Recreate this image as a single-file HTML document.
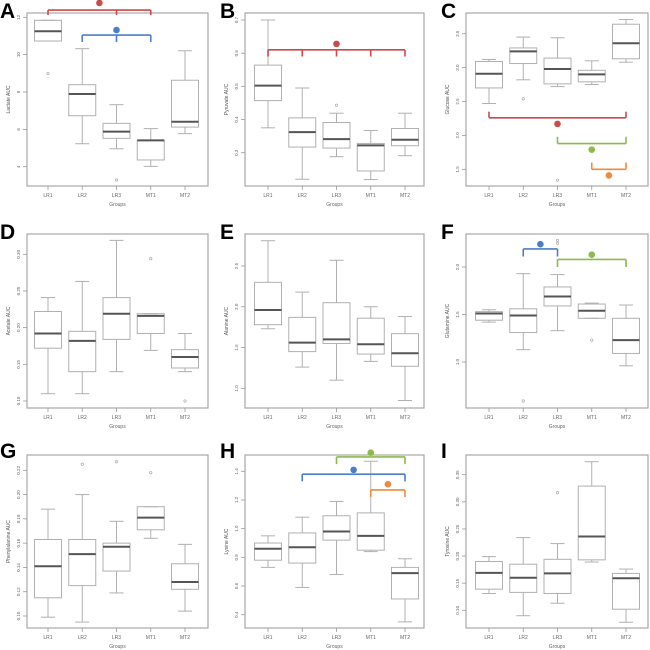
<!DOCTYPE html>
<html><head><meta charset="utf-8">
<style>
html,body{margin:0;padding:0;background:#fff;}
svg{display:block;font-family:"Liberation Sans",Arial,sans-serif;}
</style></head>
<body>
<svg id="fig" width="650" height="650" viewBox="0 0 650 650"></svg>
<script>
// ---- data (per group: [lowWhisker, Q1, median, Q3, highWhisker]) ----
const groups = ["LR1","LR2","LR3","MT1","MT2"];
const panelLetters = ["A","B","C","D","E","F","G","H","I"];
const yTitles = ["Lactate AUC","Pyruvate AUC","Glucose AUC","Acetate AUC","Alanine AUC","Glutamine AUC","Phenylalanine AUC","Lysine AUC","Tyrosine AUC"];
const statsA = [[10.73,10.73,11.25,11.84,11.84],[5.23,6.73,7.89,8.39,10.32],[4.96,5.52,5.88,6.32,7.32],[4.02,4.36,5.41,5.41,6.04],[5.77,6.12,6.41,8.63,10.21]];
const statsB = [[0.375,0.457,0.502,0.564,0.70],[0.220,0.317,0.362,0.405,0.495],[0.288,0.314,0.341,0.391,0.419],[0.219,0.245,0.322,0.328,0.367],[0.291,0.321,0.339,0.373,0.419]];
const statsC = [[2.47,2.70,2.91,3.09,3.12],[2.82,3.06,3.24,3.29,3.45],[2.72,2.76,2.98,3.14,3.44],[2.75,2.79,2.90,2.96,3.10],[3.08,3.13,3.36,3.64,3.71]];
const statsD = [[0.110,0.172,0.192,0.222,0.241],[0.110,0.140,0.182,0.195,0.263],[0.140,0.184,0.219,0.241,0.319],[0.169,0.192,0.216,0.219,0.219],[0.140,0.145,0.160,0.170,0.192]];
const statsE = [[1.73,1.78,1.96,2.30,2.81],[1.26,1.45,1.56,1.87,2.18],[1.10,1.55,1.60,2.05,2.57],[1.33,1.42,1.54,1.86,2.00],[0.85,1.27,1.43,1.67,1.88]];
const statsF = [[1.42,1.44,1.51,1.53,1.55],[1.13,1.31,1.49,1.56,1.93],[1.33,1.59,1.69,1.79,1.92],[1.46,1.46,1.54,1.61,1.62],[0.96,1.09,1.23,1.46,1.60]];
const statsG = [[0.099,0.115,0.141,0.163,0.188],[0.095,0.125,0.151,0.163,0.200],[0.119,0.137,0.157,0.160,0.178],[0.164,0.171,0.181,0.190,0.190],[0.104,0.122,0.128,0.143,0.159]];
const statsH = [[0.73,0.78,0.86,0.90,0.95],[0.59,0.76,0.87,0.97,1.08],[0.68,0.92,0.98,1.09,1.19],[0.84,0.85,0.95,1.11,1.47],[0.35,0.51,0.69,0.73,0.79]];
const statsI = [[0.131,0.139,0.169,0.190,0.199],[0.090,0.133,0.160,0.185,0.234],[0.113,0.131,0.168,0.194,0.223],[0.189,0.193,0.236,0.329,0.374],[0.078,0.102,0.159,0.168,0.176]];
// outliers: [groupIndex, value]
const outA = [[0,8.99],[2,3.29]];
const outB = [[2,0.443]];
const outC = [[1,2.54],[2,1.34]];
const outD = [[3,0.294],[4,0.100]];
const outE = [];
const outF = [[1,0.59],[2,2.28],[2,2.25],[3,1.23]];
const outG = [[1,0.225],[2,0.227],[3,0.218]];
const outH = [];
const outI = [[2,0.317]];
// tick labels
const ticksA = [4,6,8,10,12];
const ticksB = [0.3,0.4,0.5,0.6,0.7];
const ticksC = [1.5,2.0,2.5,3.0,3.5];
const ticksD = [0.10,0.15,0.20,0.25,0.30];
const ticksE = [1.0,1.5,2.0,2.5];
const ticksF = [1.0,1.5,2.0];
const ticksG = [0.10,0.12,0.14,0.16,0.18,0.20,0.22];
const ticksH = [0.4,0.6,0.8,1.0,1.2,1.4];
const ticksI = [0.10,0.15,0.20,0.25,0.30,0.35];
const tickDigits = [0,1,1,2,1,1,2,1,2];
// significance brackets: [colorKey, fromGroup, toGroup, lineValue, tickEndValue, starPos, starValue, extraTickGroups]
const sigA = [["red",0,3,12.39,12.12,1.5,12.77,[2]],["blue",1,3,11.05,10.68,2,11.32,[2]]];
const sigB = [["red",0,4,0.61,0.59,2,0.628,[1,2,3]]];
const sigC = [["red",0,4,2.26,2.35,2,2.17,[]],["green",2,4,1.88,1.98,3,1.79,[]],["orange",3,4,1.50,1.60,3.5,1.41,[]]];
const sigD = [], sigE = [], sigG = [], sigI = [];
const sigF = [["blue",1,2,2.19,2.11,1.5,2.24,[]],["green",2,4,2.08,2.0,3,2.13,[]]];
const sigH = [["green",2,4,1.50,1.45,3,1.53,[]],["blue",1,4,1.38,1.33,2.5,1.41,[]],["orange",3,4,1.27,1.22,3.5,1.31,[]]];

const allStats=[statsA,statsB,statsC,statsD,statsE,statsF,statsG,statsH,statsI];
const allOut=[outA,outB,outC,outD,outE,outF,outG,outH,outI];
const allTicks=[ticksA,ticksB,ticksC,ticksD,ticksE,ticksF,ticksG,ticksH,ticksI];
const allSig=[sigA,sigB,sigC,sigD,sigE,sigF,sigG,sigH,sigI];
const colors={red:"#cc4a4a",blue:"#4a7fc8",green:"#8dba4c",orange:"#f08a3c"};

// layout (pixel geometry)
const cols=[{l:27,r:208,x0:48},{l:245,r:424,x0:268},{l:466,r:648,x0:489}];
const rows=[{t:13,b:186},{t:234,b:408},{t:455,b:628}];
// calibration: [v1,px1,v2,px2]
const calib=[[12,17.3,4,166.7],[0.7,20,0.3,152.7],[3.5,33.7,1.5,169.3],[0.30,254.3,0.10,401],[2.5,266,1.0,388.3],[2.0,267,1.0,362],[0.22,470.3,0.10,616],[1.4,471.3,0.4,614.7],[0.35,474.7,0.10,610.3]];
const letterPos=[[0,18],[220,18],[441,18],[0,239],[220,239],[441,239],[0,458],[220,458],[441,458]];
const step=34.25, halfW=13.5;
const NS="http://www.w3.org/2000/svg";
const svg=document.getElementById('fig');
function mk(tag,attrs,parent){const e=document.createElementNS(NS,tag);for(const k in attrs)e.setAttribute(k,attrs[k]);(parent||svg).appendChild(e);return e;}

for(let p=0;p<9;p++){
  const c=cols[p%3], r=rows[Math.floor(p/3)], cal=calib[p];
  const ys=v=>cal[1]+(v-cal[0])*(cal[3]-cal[1])/(cal[2]-cal[0]);
  const xs=i=>c.x0+i*step;
  const g=mk('g',{});
  
  
  const lt=mk('text',{x:letterPos[p][0],y:letterPos[p][1],'font-size':21,'font-weight':'bold',fill:'#000'},g);
  lt.textContent=panelLetters[p];
  
  
  const fr=mk('rect',{x:c.l,y:r.t,width:c.r-c.l,height:r.b-r.t,fill:'none',stroke:'#a8a8a8','stroke-width':1.2},g);
  
  
  allTicks[p].forEach(t=>{
    const y=ys(t);
    mk('line',{x1:c.l-4,x2:c.l,y1:y,y2:y,stroke:'#999','stroke-width':0.8},g);
    const tx=mk('text',{x:c.l-7,y:y,'font-size':4.5,fill:'#666','text-anchor':'middle',transform:`rotate(-90 ${c.l-7} ${y})`},g);
    tx.textContent=t.toFixed(tickDigits[p]);
    
    
  });
  const yt=mk('text',{x:c.l-17,y:(r.t+r.b)/2,'font-size':5,fill:'#555','text-anchor':'middle',transform:`rotate(-90 ${c.l-17} ${(r.t+r.b)/2})`},g);
  yt.textContent=yTitles[p];
  
  
  groups.forEach((gn,i)=>{
    const x=xs(i);
    mk('line',{x1:x,x2:x,y1:r.b,y2:r.b+4,stroke:'#999','stroke-width':0.8},g);
    const tx=mk('text',{x:x,y:r.b+11,'font-size':5,fill:'#666','text-anchor':'middle'},g);
    tx.textContent=gn;
    
    
  });
  const xt=mk('text',{x:(c.l+c.r)/2,y:r.b+20,'font-size':5,fill:'#666','text-anchor':'middle'},g);
  xt.textContent='Groups';
  
  
  allStats[p].forEach((s,i)=>{
    const x=xs(i);
    const bg=mk('g',{stroke:'#b0b0b0','stroke-width':1,fill:'none'},g);
    
    
    mk('line',{x1:x,x2:x,y1:ys(s[0]),y2:ys(s[1])},bg);
    mk('line',{x1:x,x2:x,y1:ys(s[3]),y2:ys(s[4])},bg);
    mk('line',{x1:x-7,x2:x+7,y1:ys(s[0]),y2:ys(s[0])},bg);
    mk('line',{x1:x-7,x2:x+7,y1:ys(s[4]),y2:ys(s[4])},bg);
    mk('rect',{x:x-halfW,y:ys(s[3]),width:2*halfW,height:Math.max(0.5,ys(s[1])-ys(s[3]))},bg);
    mk('line',{x1:x-halfW,x2:x+halfW,y1:ys(s[2]),y2:ys(s[2]),stroke:'#555','stroke-width':2},bg);
  });
  allOut[p].forEach(o=>{
    const pt=mk('circle',{cx:xs(o[0]),cy:ys(o[1]),r:1.2,fill:'none',stroke:'#aaa','stroke-width':0.7},g);
    
    
  });
  allSig[p].forEach(b=>{
    const col=colors[b[0]];
    const sg=mk('g',{stroke:col,'stroke-width':1.6,fill:'none'},g);
    
    
    const yl=ys(b[3]), ye=ys(b[4]);
    mk('line',{x1:xs(b[1]),x2:xs(b[2]),y1:yl,y2:yl},sg);
    [b[1],b[2]].concat(b[7]).forEach(k=>mk('line',{x1:xs(k),x2:xs(k),y1:yl,y2:ye},sg));
    const st=mk('circle',{cx:xs(b[5]),cy:ys(b[6]),r:3.3,fill:col,stroke:'none'},g);
    
    
  });
}
</script>
</body></html>
